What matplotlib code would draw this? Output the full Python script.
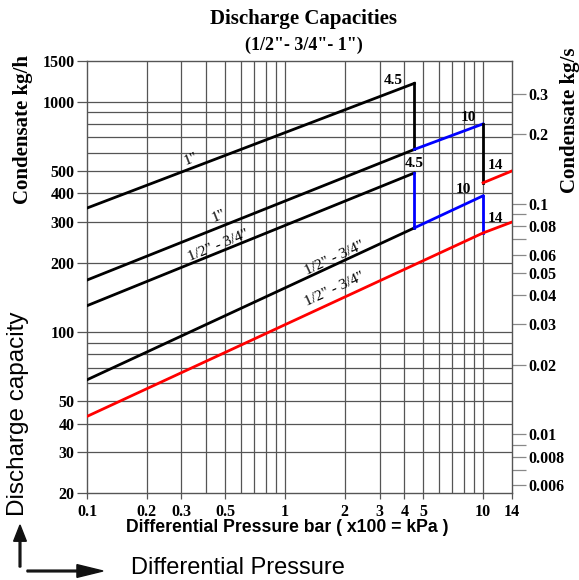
import numpy as np
import matplotlib
matplotlib.use('Agg')
import matplotlib.pyplot as plt
from matplotlib.ticker import FixedLocator, FuncFormatter, NullFormatter

# capacity curves, pressure in bar, condensate in kg/h
one_hi_x = [0.1, 4.5]
one_hi_y = [345, 1200]
one_drop_y = [1200, 620]

one_lo_x = [0.1, 4.5]
one_lo_y = [168, 620]
one_blue_x = [4.5, 10]
one_blue_y = [620, 800]
one_drop10_y = [800, 444]
one_red_x = [10, 14]
one_red_y = [444, 500]

half_hi_x = [0.1, 4.5]
half_hi_y = [130, 490]
half_drop_y = [490, 283]

half_lo_x = [0.1, 4.5]
half_lo_y = [62, 283]
half_blue_x = [4.5, 10]
half_blue_y = [283, 390]
half_drop10_y = [390, 269]

red_x = [0.1, 10, 14]
red_y = [43, 269, 300]

x_ticks = [0.1, 0.2, 0.3, 0.5, 1, 2, 3, 4, 5, 10, 14]
x_grid = [0.2, 0.3, 0.4, 0.5, 0.6, 0.7, 0.8, 0.9, 1, 2, 3, 4, 5, 6, 7, 8, 9, 10]
y_ticks = [20, 30, 40, 50, 100, 200, 300, 400, 500, 1000, 1500]
y_grid = [30, 40, 50, 60, 70, 80, 90, 100, 200, 300, 400, 500, 600, 700, 800, 900, 1000]
kgs_ticks = [0.3, 0.2, 0.1, 0.08, 0.06, 0.05, 0.04, 0.03, 0.02, 0.01, 0.008, 0.006]
kgs_minor = [0.09, 0.07, 0.009, 0.007]

SERIF = 'Liberation Serif'
SANS = 'Liberation Sans'
GRID = '#555555'


def to_kgs(v):
    return np.asarray(v) / 3600.0


def to_kgh(v):
    return np.asarray(v) * 3600.0


def angle_of(ax, xs, ys):
    p = ax.transData.transform(np.column_stack([xs, ys]))
    d = p[-1] - p[0]
    return np.degrees(np.arctan2(d[1], d[0]))


fig = plt.figure(figsize=(5.79, 5.80), dpi=100)
ax = fig.add_axes([87 / 579, 1 - 493 / 580, 425 / 579, 432 / 580])
ax.set_xscale('log')
ax.set_yscale('log')
ax.set_xlim(0.1, 14)
ax.set_ylim(20, 1500)

ax.xaxis.set_major_locator(FixedLocator(x_ticks))
ax.xaxis.set_major_formatter(FuncFormatter(lambda v, _: f'{v:g}'))
ax.xaxis.set_minor_locator(FixedLocator(x_grid))
ax.xaxis.set_minor_formatter(NullFormatter())
ax.yaxis.set_major_locator(FixedLocator(y_ticks))
ax.yaxis.set_major_formatter(FuncFormatter(lambda v, _: f'{v:g}'))
ax.yaxis.set_minor_locator(FixedLocator(y_grid))
ax.yaxis.set_minor_formatter(NullFormatter())

ax.tick_params(which='major', axis='x', direction='out', length=4, width=0.9,
               color=GRID, pad=4, labelsize=11.5)
ax.tick_params(which='major', axis='y', direction='out', length=7, width=0.9,
               color=GRID, pad=2, labelsize=11.5)
ax.tick_params(which='minor', length=0)
for lab in ax.get_xticklabels() + ax.get_yticklabels():
    lab.set_fontfamily(SERIF)
    lab.set_fontweight('bold')

for v in x_grid:
    ax.axvline(v, color=GRID, lw=0.9, zorder=1)
for v in y_grid:
    ax.axhline(v, color=GRID, lw=0.9, zorder=1)
for s in ax.spines.values():
    s.set_color(GRID)
    s.set_linewidth(1.0)

lw = 2.0
ax.plot(one_hi_x, one_hi_y, color='black', lw=lw, zorder=3)
ax.plot([4.5, 4.5], one_drop_y, color='black', lw=lw, zorder=3)
ax.plot(one_lo_x, one_lo_y, color='black', lw=lw, zorder=3)
ax.plot(one_blue_x, one_blue_y, color='#0000ff', lw=lw, zorder=3)
ax.plot([10, 10], one_drop10_y, color='black', lw=lw, zorder=3)
ax.plot(one_red_x, one_red_y, color='#ff0000', lw=lw, zorder=3)
ax.plot(half_hi_x, half_hi_y, color='black', lw=lw, zorder=3)
ax.plot([4.5, 4.5], half_drop_y, color='#0000ff', lw=lw, zorder=3)
ax.plot(half_lo_x, half_lo_y, color='black', lw=lw, zorder=3)
ax.plot(half_blue_x, half_blue_y, color='#0000ff', lw=lw, zorder=3)
ax.plot([10, 10], half_drop10_y, color='#0000ff', lw=lw, zorder=3)
ax.plot(red_x, red_y, color='#ff0000', lw=lw, zorder=3)

# curve labels
lbl = dict(family=SERIF, fontsize=11, ha='center', va='center', zorder=4)
ax.text(0.335, 560, '1"', rotation=angle_of(ax, one_hi_x, one_hi_y), **lbl)
ax.text(0.462, 318, '1"', rotation=angle_of(ax, one_lo_x, one_lo_y), **lbl)
ax.text(0.462, 238, '1/2" - 3/4"', rotation=angle_of(ax, half_hi_x, half_hi_y), **lbl)
ax.text(1.79, 208, '1/2" - 3/4"', rotation=angle_of(ax, half_lo_x, half_lo_y), **lbl)
ax.text(1.79, 153, '1/2" - 3/4"', rotation=angle_of(ax, red_x[:2], red_y[:2]), **lbl)

num = dict(family=SERIF, fontsize=11, fontweight='bold', ha='center', va='center', zorder=4)
ax.text(3.5, 1235, '4.5', **num)
ax.text(8.4, 850, '10', **num)
ax.text(11.6, 530, '14', **num)
ax.text(4.47, 536, '4.5', **num)
ax.text(8.0, 416, '10', **num)
ax.text(11.6, 312, '14', **num)

# right axis in kg/s
sec = ax.secondary_yaxis('right', functions=(to_kgs, to_kgh))
sec.yaxis.set_major_locator(FixedLocator(kgs_ticks))
sec.yaxis.set_major_formatter(FuncFormatter(lambda v, _: f'{v:g}'))
sec.yaxis.set_minor_locator(FixedLocator(kgs_minor))
sec.yaxis.set_minor_formatter(NullFormatter())
sec.tick_params(which='both', direction='out', length=10, width=0.9, color='#888888',
                pad=2, labelsize=11.5)
sec.spines['right'].set_visible(False)
for lab in sec.get_yticklabels():
    lab.set_fontfamily(SERIF)
    lab.set_fontweight('bold')

fig.text(287 / 579, 1 - 528 / 580, 'Differential Pressure bar ( x100 = kPa )', family=SANS,
         fontweight='bold', fontsize=12.7, ha='center', va='center')

fig.text(0.525, 0.968, 'Discharge Capacities', family=SERIF, fontweight='bold',
         fontsize=15, ha='center', va='center')
fig.text(0.525, 0.921, '(1/2"- 3/4"- 1")', family=SERIF, fontweight='bold',
         fontsize=13, ha='center', va='center')
fig.text(23 / 579, 1 - 130 / 580, 'Condensate kg/h', family=SERIF, fontweight='bold',
         fontsize=15, rotation=90, ha='center', va='center')
fig.text(570 / 579, 1 - 120 / 580, 'Condensate kg/s', family=SERIF, fontweight='bold',
         fontsize=15, rotation=90, ha='center', va='center')

fig.text(18 / 579, 1 - 414 / 580, 'Discharge capacity', family=SANS, fontsize=17.5,
         rotation=90, ha='center', va='center')
fig.text(131 / 579, 1 - 568 / 580, 'Differential Pressure', family=SANS, fontsize=17,
         ha='left', va='center')
fig.patches.append(matplotlib.patches.FancyArrow(
    20 / 579, 1 - 567 / 580, 0, 42 / 580, width=0.003, head_width=0.022,
    head_length=0.028, length_includes_head=True, color='#111111',
    transform=fig.transFigure, figure=fig))
fig.patches.append(matplotlib.patches.FancyArrow(
    27 / 579, 1 - 571 / 580, 76 / 579, 0, width=0.003, head_width=0.022,
    head_length=0.045, length_includes_head=True, color='#111111',
    transform=fig.transFigure, figure=fig))

fig.savefig('out.png', dpi=100)
